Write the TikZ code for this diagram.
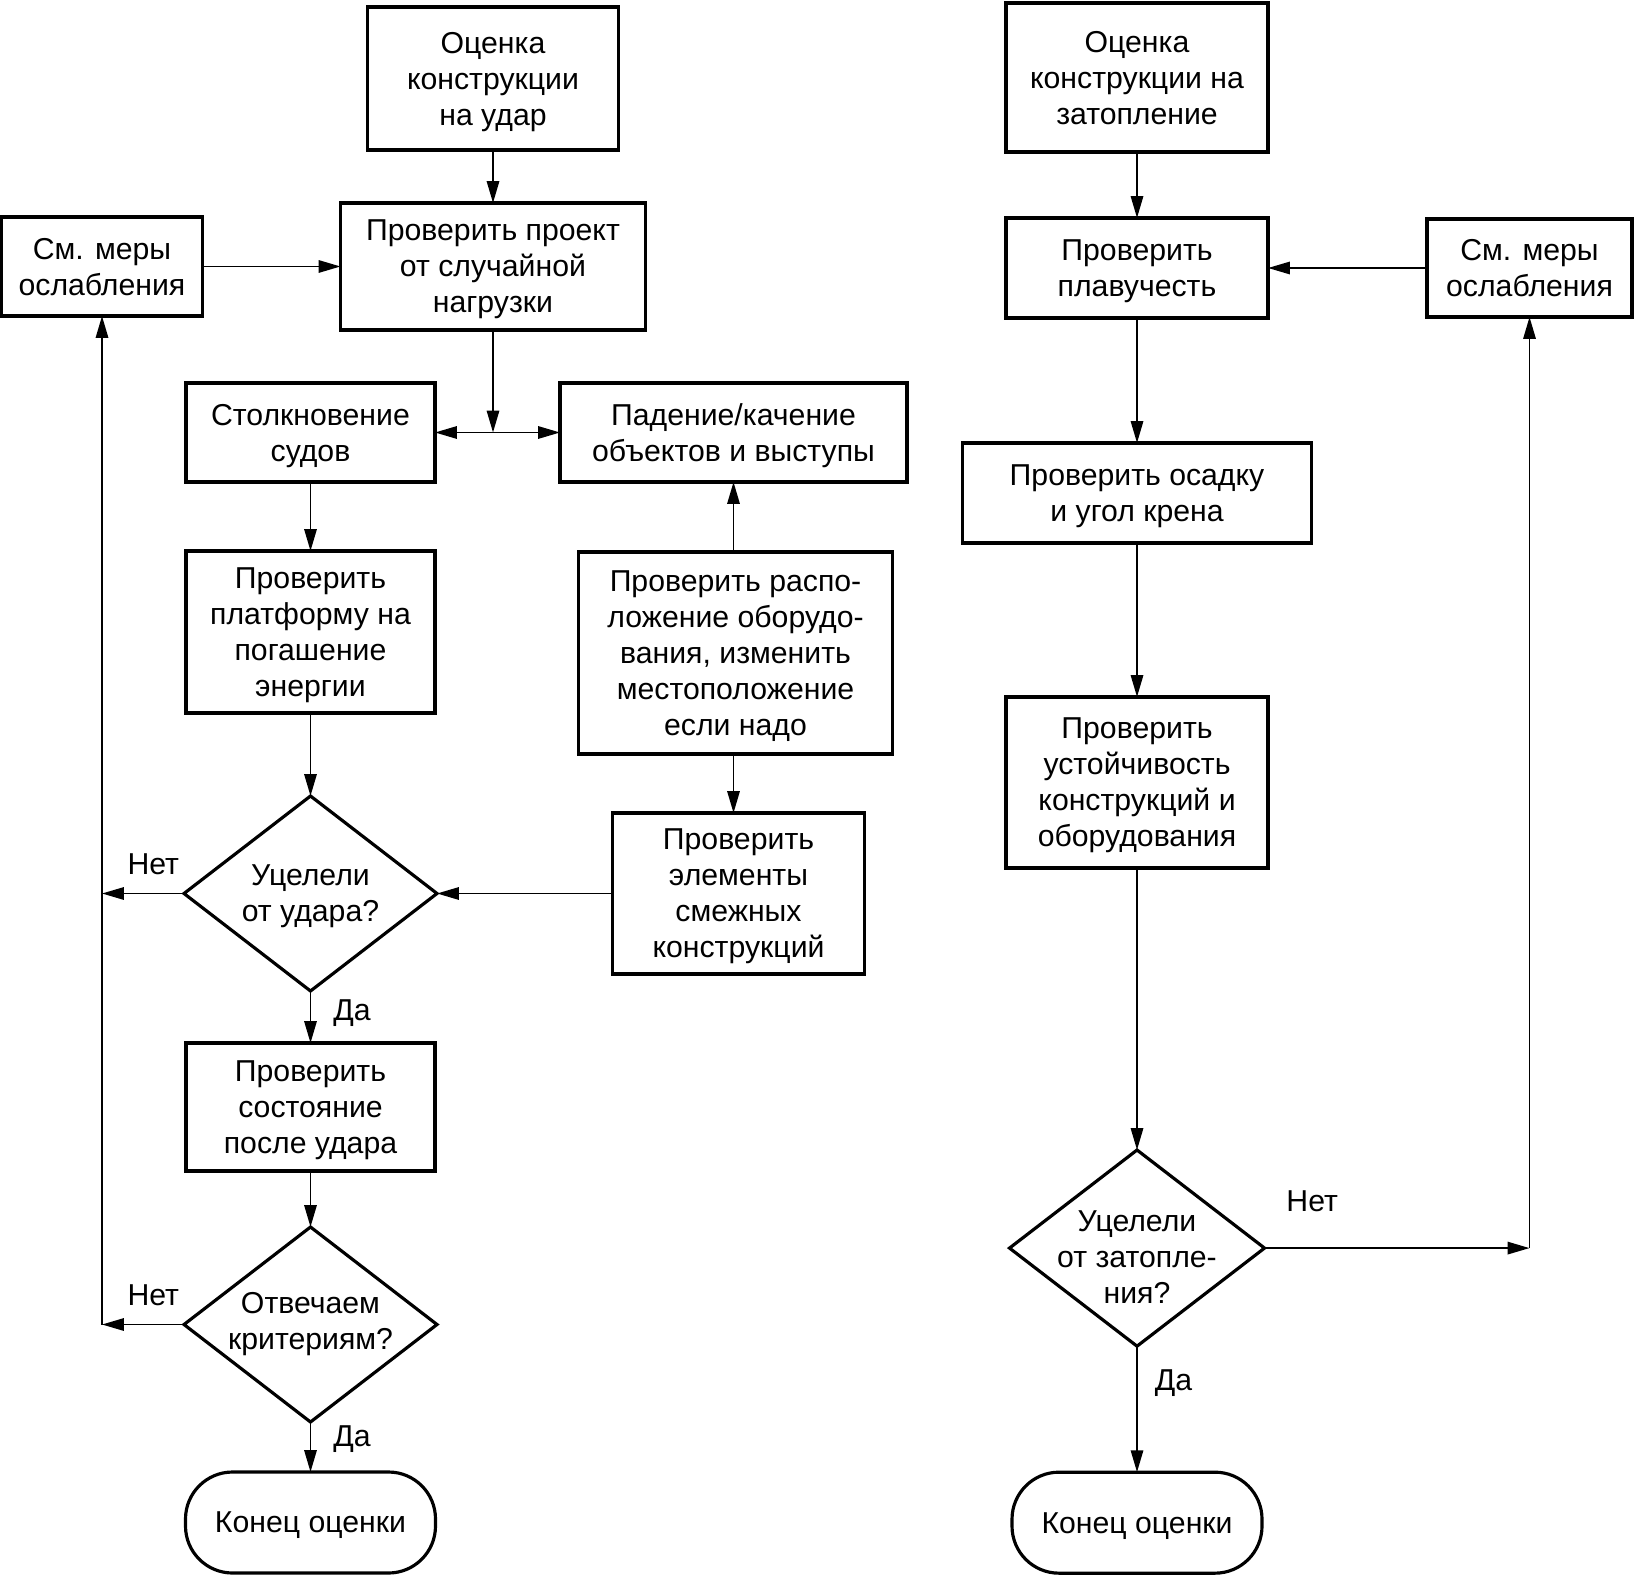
\documentclass[tikz,border=0pt]{standalone}
\usepackage{fontspec}
\setmainfont{Liberation Sans}
\usetikzlibrary{positioning, shapes.geometric, arrows.meta}

\begin{document}
\begin{tikzpicture}[node distance=0.53cm, auto,
        font=\fontsize{8.6}{10.25}\selectfont, line width=0.55pt,
        >={Triangle[length=6.2pt, width=3.5pt]},
        block/.style={draw, rectangle, line width=0.9pt, align=center, inner sep=0pt, outer sep=0pt, text depth=0pt},
        decision/.style={draw, diamond, aspect=1.3, line width=0.9pt, align=center, inner sep=-3pt, outer sep=0pt, text depth=0pt, minimum width=2.53cm, minimum height=1.95cm},
        terminal/.style={draw, rectangle, rounded corners=0.47cm, line width=0.9pt, outer sep=0pt, text depth=0pt, minimum width=2.5cm, minimum height=1.01cm},
        answer/.style={inner sep=0pt}]
        \useasboundingbox (0,0) rectangle (16.35,-15.77);

        % Nodes: impact
        \node (b) [block, minimum width=3.05cm, minimum height=1.27cm] at (4.93,-2.665) {Проверить проект\\от случайной\\нагрузки};
        \node (a) [block, above=of b, minimum width=2.51cm, minimum height=1.43cm] {Оценка\\конструкции\\на удар};
        \node (m1) [block, left=1.38cm of b, minimum width=2.01cm, minimum height=0.99cm] {См. меры\\ослабления};
        \node (c) [block, minimum width=2.49cm, minimum height=0.99cm] at (3.105,-4.325) {Столкновение\\судов};
        \node (d) [block, right=1.25cm of c, minimum width=3.47cm, minimum height=0.99cm] {Падение/качение\\объектов и выступы};
        \node (e) [block, below=0.69cm of c, minimum width=2.49cm, minimum height=1.62cm] {Проверить\\платформу на\\погашение\\энергии};
        \node (f) [block, below=0.70cm of d, xshift=0.02cm, minimum width=3.14cm, minimum height=2.02cm] {Проверить распо-\\ложение оборудо-\\вания, изменить\\местоположение\\если надо};
        \node (g) [block, below=0.59cm of f, xshift=0.03cm, minimum width=2.52cm, minimum height=1.61cm] {Проверить\\элементы\\смежных\\конструкций};
        \node (q1) [decision, below=0.83cm of e] {Уцелели\\от удара?};
        \node (h) [block, below=0.52cm of q1, minimum width=2.49cm, minimum height=1.28cm] {Проверить\\состояние\\после удара};
        \node (q2) [decision, below=0.56cm of h, text depth=2pt] {Отвечаем\\критериям?};
        \node (t1) [terminal, below=0.50cm of q2] {Конец оценки};

        % Nodes: flooding
        \node (r2) [block, minimum width=2.62cm, minimum height=1.00cm] at (11.37,-2.68) {Проверить\\плавучесть};
        \node (r1) [block, above=0.66cm of r2, minimum width=2.62cm, minimum height=1.49cm] {Оценка\\конструкции на\\затопление};
        \node (m2) [block, right=1.59cm of r2, minimum width=2.05cm, minimum height=0.98cm] {См. меры\\ослабления};
        \node (r3) [block, below=1.25cm of r2, minimum width=3.49cm, minimum height=1.00cm] {Проверить осадку\\и угол крена};
        \node (r4) [block, below=1.54cm of r3, minimum width=2.62cm, minimum height=1.71cm] {Проверить\\устойчивость\\конструкций и\\оборудования};
        \node (q3) [decision, below=2.82cm of r4, minimum width=2.54cm, text height=31.5pt] {Уцелели\\от затопле-\\ния?};
        \node (t2) [terminal, below=1.26cm of q3] {Конец оценки};

        \coordinate (j) at (b.south |- c.east);
        \coordinate (l1) at (m1.south |- q1.west);
        \coordinate (l2) at (m1.south |- q2.west);
        \coordinate (rr) at (m2.south |- q3.east);

        % Arrows
        \draw[->] (a) -- (b);
        \draw[->] (m1) -- (b);
        \draw[->] (b) -- (j);
        \draw[<->] (c) -- (d);
        \draw[->] (c) -- (e);
        \draw[->] (f.north -| d.south) -- (d.south);
        \draw[->] (f.south -| d.south) -- (d.south |- g.north);
        \draw[->] (g) -- (q1);
        \draw[->] (e) -- (q1);
        \draw[->] (q1) -- node[answer, right=0.22cm, pos=0.42] {Да} (h);
        \draw[->] (h) -- (q2);
        \draw[->] (q2) -- node[answer, right=0.22cm, pos=0.35] {Да} (t1);
        \draw[->] (q1) -- node[answer, above=0.18cm, pos=0.375] {Нет} (l1);
        \draw[->] (q2) -- node[answer, above=0.18cm, pos=0.375] {Нет} (l2);
        \draw[->] (l2) -- (m1);

        \draw[->] (r1) -- (r2);
        \draw[->] (m2) -- (r2);
        \draw[->] (r2) -- (r3);
        \draw[->] (r3) -- (r4);
        \draw[->] (r4) -- (q3);
        \draw[->] (q3) -- node[answer, right=0.17cm, pos=0.29] {Да} (t2);
        \draw[->] (q3) -- node[answer, above=0.35cm, pos=0.18] {Нет} (rr);
        \draw[->] (rr) -- (m2);
    \end{tikzpicture}
\end{document}
